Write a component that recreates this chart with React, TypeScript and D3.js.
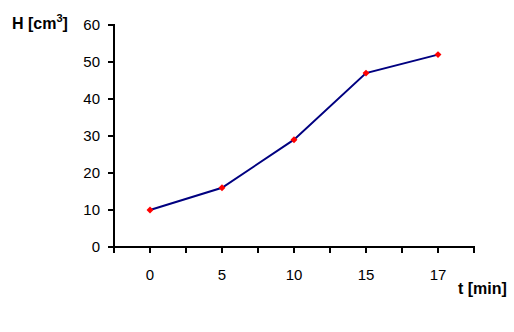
import React from "react";
import * as d3 from "d3";

const categories = ["0", "5", "10", "15", "17"];
const values = [10, 16, 29, 47, 52];
const yTicks = [0, 10, 20, 30, 40, 50, 60];

const W = 514;
const H = 332;
const left = 114;
const right = 474;
const top = 25;
const bottom = 247;

export default function App() {
  const x = d3.scaleBand<string>().domain(categories).range([left, right]).paddingInner(0).paddingOuter(0);
  const y = d3.scaleLinear().domain([0, 60]).range([bottom, top]);
  const cx = (c: string) => (x(c) as number) + x.bandwidth() / 2;
  const line = d3
    .line<number>()
    .x((_, i) => cx(categories[i]))
    .y((d) => y(d));
  const marker = d3.symbol().type(d3.symbolSquare).size(24)();
  // tick marks at band edges and band centres
  const xTickPos: number[] = [];
  categories.forEach((c) => {
    xTickPos.push(x(c) as number);
    xTickPos.push(cx(c));
  });
  xTickPos.push(right);
  const font = "'Liberation Sans', Arial, sans-serif";

  return (
    <svg
      width={W}
      height={H}
      style={{ position: "absolute", left: 0, top: 0, background: "#fff" }}
      fontFamily={font}
    >
      {/* Y axis */}
      <line x1={left} x2={left} y1={top - 1} y2={bottom + 1} stroke="#000" strokeWidth={2} />
      {yTicks.map((t) => (
        <g key={t}>
          <line x1={left - 6} x2={left} y1={y(t)} y2={y(t)} stroke="#000" strokeWidth={2} />
          <text x={100} y={y(t)} dy="0.35em" textAnchor="end" fontSize={15} fill="#000">
            {t}
          </text>
        </g>
      ))}
      {/* X axis */}
      <line x1={left - 1} x2={right + 1} y1={bottom} y2={bottom} stroke="#000" strokeWidth={2} />
      {xTickPos.map((b, i) => (
        <line key={i} x1={b} x2={b} y1={bottom} y2={bottom + 6} stroke="#000" strokeWidth={2} />
      ))}
      {categories.map((c) => (
        <text key={c} x={cx(c)} y={280} textAnchor="middle" fontSize={15} fill="#000">
          {c}
        </text>
      ))}
      {/* Line */}
      <path d={line(values) || ""} fill="none" stroke="#000080" strokeWidth={2} />
      {values.map((v, i) => (
        <path
          key={i}
          d={marker || ""}
          transform={`translate(${cx(categories[i])},${y(v)}) rotate(45)`}
          fill="#ff0000"
        />
      ))}
      {/* Axis titles */}
      <text x={12} y={29} fontSize={16} fontWeight="bold" fill="#000">
        H [cm<tspan dy={-7} fontSize={11}>3</tspan>
        <tspan dy={7}>]</tspan>
      </text>
      <text x={458} y={294} fontSize={16} fontWeight="bold" fill="#000">
        t [min]
      </text>
    </svg>
  );
}
